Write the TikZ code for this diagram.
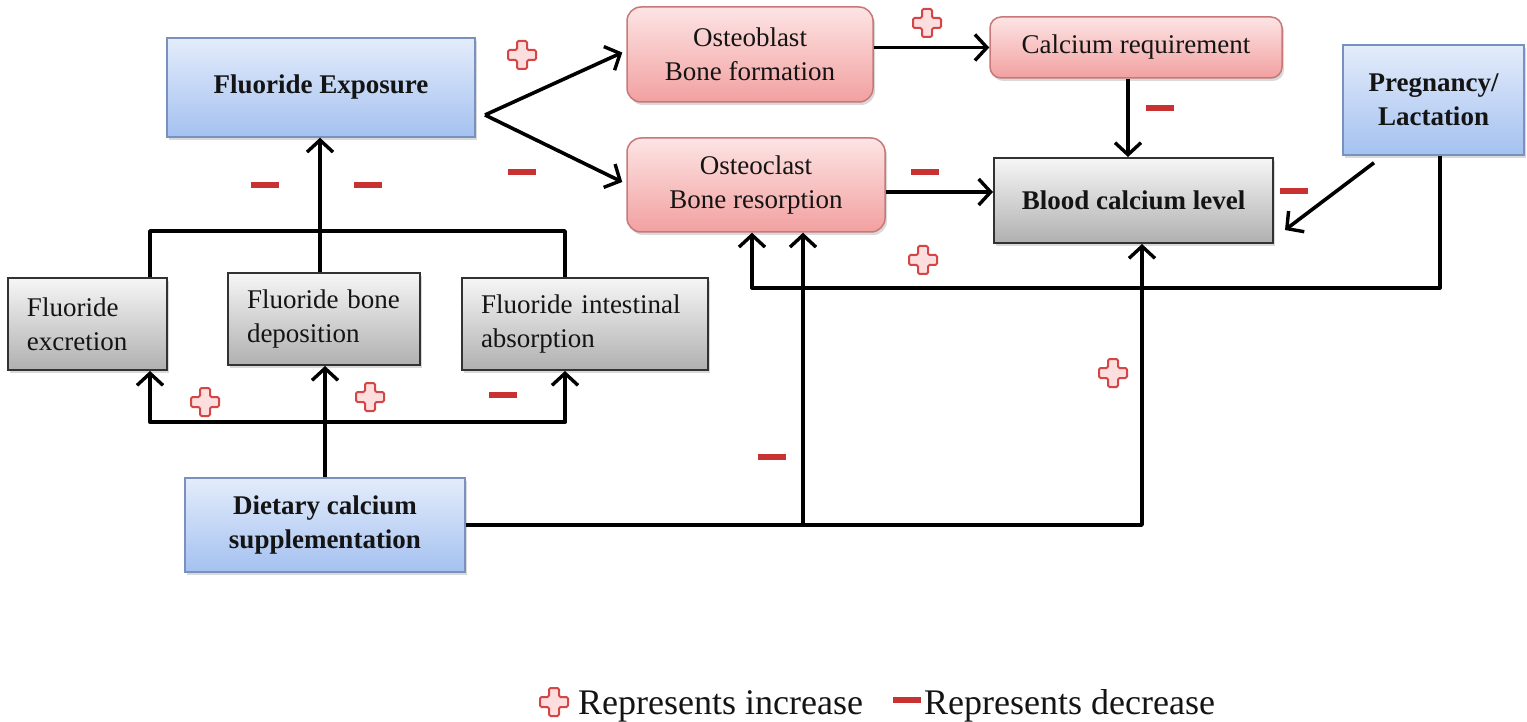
\documentclass[tikz,border=0pt]{standalone}
\usepackage{fontspec}
\setmainfont{Liberation Serif}
\usetikzlibrary{arrows.meta,shadows,calc}
\definecolor{bluetop}{RGB}{228,236,251}
\definecolor{bluebot}{RGB}{164,193,240}
\definecolor{blueedge}{RGB}{120,145,190}
\definecolor{pinktop}{RGB}{253,228,228}
\definecolor{pinkbot}{RGB}{242,160,160}
\definecolor{pinkedge}{RGB}{200,120,120}
\definecolor{graytop}{RGB}{246,246,246}
\definecolor{graybot}{RGB}{176,176,176}
\definecolor{grayedge}{RGB}{50,50,50}
\definecolor{signred}{RGB}{200,50,50}
\definecolor{plusedge}{RGB}{212,70,70}
\definecolor{plusfill}{RGB}{252,222,222}
\tikzset{
  plussign/.pic={
    \draw[draw=plusedge, fill=plusfill, line width=2pt, rounded corners=1.5pt]
      (-5,-14) -- (5,-14) -- (5,-5) -- (14,-5) -- (14,5) -- (5,5) -- (5,14)
      -- (-5,14) -- (-5,5) -- (-14,5) -- (-14,-5) -- (-5,-5) -- cycle;
  },
  minussign/.pic={
    \fill[signred] (-14,-2.6) rectangle (14,2.6);
  }
}
\begin{document}
\begin{tikzpicture}[x=1pt,y=-1pt,
  every node/.style={text=black!92},
  txt/.style={font=\fontsize{27pt}{34pt}\selectfont},
  box/.style={txt, draw, line width=1.5pt,
    drop shadow={shadow xshift=2pt,shadow yshift=-3pt,opacity=0.3}},
  bluebox/.style={box, draw=blueedge, top color=bluetop, bottom color=bluebot,
    font=\fontsize{27pt}{34pt}\selectfont\bfseries, align=center},
  pinkbox/.style={box, rounded corners=14pt, draw=pinkedge, top color=pinktop,
    bottom color=pinkbot, align=center},
  graybox/.style={box, draw=grayedge, line width=2pt, top color=graytop,
    bottom color=graybot, align=left, inner xsep=19pt, minimum height=92pt},
  arr/.style={line width=3.6pt, -{Straight Barb[length=12pt,width=26pt,line width=3.4pt]}},
  ln/.style={line width=3.6pt},
]
\useasboundingbox (0,0) rectangle (1527,722);

% nodes
\node[bluebox, minimum width=308pt, minimum height=99pt] (fe) at (321,87.5) {Fluoride Exposure};
\node[pinkbox, minimum width=246pt, minimum height=95pt] (ob) at (750,54.5) {Osteoblast\\Bone formation};
\node[pinkbox, minimum width=258pt, minimum height=94pt] (oc) at (756,185) {Osteoclast\\Bone resorption};
\node[pinkbox, minimum width=292pt, minimum height=61pt, rounded corners=11pt] (cr) at (1136,47.5) {Calcium requirement};
\node[box, draw=grayedge, line width=2pt, top color=graytop, bottom color=graybot,
      font=\fontsize{27pt}{34pt}\selectfont\bfseries,
      minimum width=279pt, minimum height=85pt] (bc) at (1133.5,200.5) {Blood calcium level};
\node[bluebox, minimum width=181pt, minimum height=110pt] (pl) at (1433.5,100) {Pregnancy/\\Lactation};
\node[graybox, text width=121pt] (ex) at (87.5,324) {Fluoride\\excretion};
\node[graybox, text width=154pt] (bd) at (324,319) {Fluoride bone\\deposition};
\node[graybox, text width=208pt] (ia) at (585,324) {Fluoride intestinal\\absorption};
\node[bluebox, minimum width=280pt, minimum height=94pt] (dc) at (325,525) {Dietary calcium\\supplementation};

% connectors
\coordinate (fork) at (485,115);
\draw[arr, line join=round] (fork) -- ([xshift=-4pt,yshift=2pt]ob.west);
\draw[arr, line join=round] (fork) -- ([xshift=-4pt,yshift=3pt]oc.west);
\draw[arr] (ob.east |- cr.west) -- (cr.west);
\draw[arr] ([yshift=-7pt]oc.east) -- ([yshift=-7pt]oc.east -| bc.west);
\draw[arr] ([xshift=-8pt]cr.south) -- ([xshift=-8pt]cr.south |- bc.north);
\draw[arr] ([xshift=-59.5pt,yshift=-7pt]pl.south) -- ([xshift=11pt,yshift=-29.5pt]bc.east);
\draw[arr, line join=round] ([xshift=6.5pt]pl.south) -- ++(0,132) -| ([xshift=-4pt]oc.south);
\draw[arr, line join=round] (dc.east) -| ([xshift=8.5pt]bc.south);
\draw[arr] ([xshift=47pt]oc.south |- dc.east) -- ([xshift=47pt]oc.south);
\draw[arr] ([xshift=-4pt]bd.north) -- ([xshift=-4pt]bd.north |- fe.south);
\draw[ln, line join=round] ([xshift=62.5pt]ex.north) -- ++(0,-46) -| ([xshift=-20pt]ia.north);
\draw[arr] (dc.north) -- (dc.north |- bd.south);
\draw[arr, line join=round] ([yshift=55pt]dc.north) -| ([xshift=62.5pt]ex.south);
\draw[arr, line join=round] ([yshift=55pt]dc.north) -| ([xshift=-20pt]ia.south);

% signs
\pic at (522,55) {plussign};
\pic at (522,172) {minussign};
\pic at (927,23) {plussign};
\pic at (925,172) {minussign};
\pic at (1160,108) {minussign};
\pic at (1294,191) {minussign};
\pic at (923,260) {plussign};
\pic at (1113,373) {plussign};
\pic at (772,457) {minussign};
\pic at (265,185) {minussign};
\pic at (368,185) {minussign};
\pic at (205,402) {plussign};
\pic at (370,397) {plussign};
\pic at (503,395) {minussign};

% legend
\pic at (554,702) {plussign};
\node[anchor=base west, inner sep=0pt, font=\fontsize{36pt}{40pt}\selectfont] (li) at (578,714) {Represents increase};
\pic at (907,700) {minussign};
\node[anchor=base west, inner sep=0pt, font=\fontsize{36pt}{40pt}\selectfont] (ld) at (924,714) {Represents decrease};
\end{tikzpicture}
\end{document}
